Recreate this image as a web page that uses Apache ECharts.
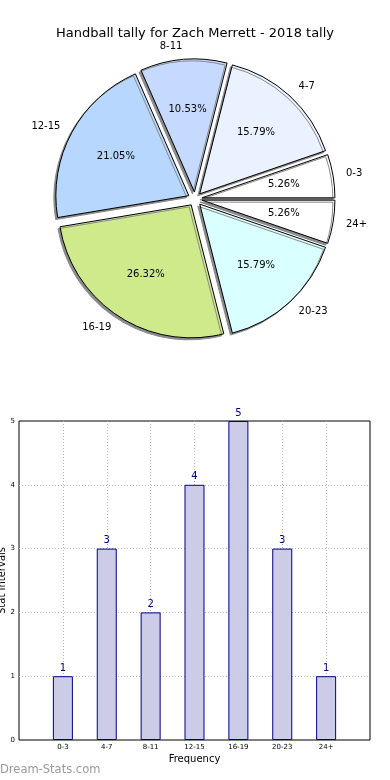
<!DOCTYPE html>
<html>
<head>
<meta charset="utf-8">
<script src="https://cdn.jsdelivr.net/npm/echarts@6/dist/echarts.min.js"></script>
<style>
html,body{margin:0;padding:0;background:#fff;}
#c{width:390px;height:780px;}
</style>
</head>
<body>
<div id="c"></div>
<script>
const categories = ['0-3', '4-7', '8-11', '12-15', '16-19', '20-23', '24+'];
const tallies = [1, 3, 2, 4, 5, 3, 1];
const sliceColors = ['#ffffff', '#ebf2ff', '#c6d9ff', '#b7d7ff', '#cfea8b', '#d9ffff', '#ffffff'];
const yTicks = [0, 1, 2, 3, 4, 5];

const FONT = 'DejaVu Sans';
const chart = echarts.init(document.getElementById('c'), null, {renderer: 'canvas'});

const pieData = categories.map((c, i) => ({
  name: c, value: tallies[i], selected: true,
  itemStyle: {color: sliceColors[i]}
}));
const pctData = categories.map((c, i) => ({name: c, value: tallies[i], selected: true}));

const pieCenter = [195, 199];
const pieR = 133;

chart.setOption({
  animation: false,
  title: {
    text: 'Handball tally for Zach Merrett - 2018 tally',
    left: 'center', top: 22,
    textStyle: {fontFamily: FONT, fontSize: 13, fontWeight: 'normal', color: '#000'}
  },
  graphic: [{
    type: 'text', left: 0, top: 764,
    style: {text: 'Dream-Stats.com', fontFamily: FONT, fontSize: 11.5, fill: '#9a9a9a'}
  }],
  grid: {left: 19, right: 20, top: 421, bottom: 40, show: true, borderColor: '#000', borderWidth: 1,
    backgroundColor: 'transparent', outerBoundsMode: 'none', containLabel: false},
  xAxis: {
    type: 'value', min: -1, max: 7, interval: 1,
    name: 'Frequency', nameLocation: 'middle', nameGap: 14,
    nameTextStyle: {fontFamily: FONT, fontSize: 10, color: '#000'},
    axisLine: {show: false}, axisTick: {show: false},
    axisLabel: {fontFamily: FONT, fontSize: 7, color: '#000', margin: 4,
      formatter: v => (categories[v] !== undefined ? categories[v] : '')},
    splitLine: {show: true, showMinLine: false, showMaxLine: false, lineStyle: {color: '#b4b4b4', type: [1, 2], width: 1}}
  },
  yAxis: {
    type: 'value', min: 0, max: 5, interval: 1,
    name: 'Stat Intervals', nameLocation: 'middle', nameGap: 12, nameMoveOverlap: false,
    nameTextStyle: {fontFamily: FONT, fontSize: 10, color: '#000'},
    axisLine: {show: false}, axisTick: {show: false},
    axisLabel: {fontFamily: FONT, fontSize: 7, color: '#000', margin: 4,
      formatter: v => (yTicks.indexOf(v) >= 0 ? String(v) : '')},
    splitLine: {show: true, showMinLine: false, showMaxLine: false, lineStyle: {color: '#b4b4b4', type: [1, 2], width: 1}}
  },
  series: [
    {
      type: 'pie', center: pieCenter, radius: pieR,
      startAngle: 0, clockwise: false,
      selectedMode: 'multiple', selectedOffset: 7,
      avoidLabelOverlap: false,
      emphasis: {scale: false, disabled: true},
      select: {itemStyle: {borderColor: '#000', borderWidth: 1}},
      itemStyle: {borderColor: '#000', borderWidth: 1, shadowColor: '#8a8a8a', shadowBlur: 0, shadowOffsetX: -2, shadowOffsetY: 2},
      label: {show: true, position: 'outside', formatter: '{b}', fontFamily: FONT, fontSize: 10, color: '#000', distanceToLabelLine: 0},
      labelLine: {show: false, length: 13, length2: 0},
      data: pieData
    },
    {
      type: 'pie', center: pieCenter, radius: [27, pieR],
      startAngle: 0, clockwise: false,
      selectedMode: 'multiple', selectedOffset: 7,
      avoidLabelOverlap: false, silent: true,
      emphasis: {scale: false, disabled: true},
      itemStyle: {color: 'rgba(0,0,0,0)', borderWidth: 0},
      select: {itemStyle: {color: 'rgba(0,0,0,0)', borderWidth: 0}},
      label: {show: true, position: 'inside', formatter: '{d}%', fontFamily: FONT, fontSize: 10, color: '#000'},
      labelLine: {show: false},
      data: pctData
    },
    {
      type: 'bar', barWidth: 20,
      data: tallies.map((v, i) => [i, v]),
      itemStyle: {color: '#ccccE6', borderColor: '#000080', borderWidth: 1},
      label: {show: true, position: 'top', distance: 3, fontFamily: FONT, fontSize: 10, color: '#000080'}
    }
  ]
});
</script>
</body>
</html>
